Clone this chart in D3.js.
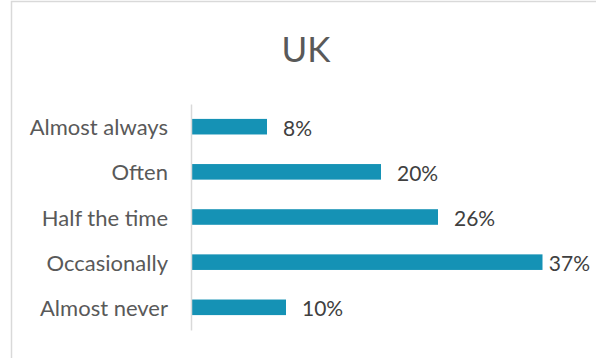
<!DOCTYPE html>
<html>
<head>
<meta charset="utf-8">
<script src="https://cdn.jsdelivr.net/npm/d3@7"></script>
<style>
  html, body { margin: 0; padding: 0; background: #fff; }
  svg { display: block; }
</style>
</head>
<body>
<svg id="chart" width="596" height="358"></svg>
<script>
const title = "UK";
const categories = ["Almost always", "Often", "Half the time", "Occasionally", "Almost never"];
const values = [0.08, 0.20, 0.26, 0.37, 0.10];
const valueLabels = ["8%", "20%", "26%", "37%", "10%"];

const svg = d3.select("#chart");
const W = 596, H = 358;
const FONT = "Lato, 'Open Sans', sans-serif";

// chart border
svg.append("rect")
  .attr("x", 11.5).attr("y", 1.5)
  .attr("width", 700).attr("height", 500)
  .attr("fill", "#fff").attr("stroke", "#d9d9d9").attr("stroke-width", 1.5);

const x = d3.scaleLinear().domain([0, 0.4]).range([191, 571]);
const y = d3.scaleBand().domain(categories).range([104, 330]).paddingInner(0.655).paddingOuter(0.33);

// title
svg.append("text")
  .attr("x", 306).attr("y", 62)
  .attr("text-anchor", "middle")
  .attr("font-family", FONT).attr("font-size", 35)
  .attr("fill", "#595959")
  .text(title);

// bars
svg.append("g").selectAll("rect")
  .data(categories)
  .join("rect")
  .attr("x", x(0))
  .attr("y", d => y(d))
  .attr("width", (d, i) => x(values[i]) - x(0))
  .attr("height", y.bandwidth())
  .attr("fill", "#1592b5");

// y axis
const yAxis = d3.axisLeft(y).tickSize(0).tickPadding(23);
const gy = svg.append("g").attr("transform", `translate(${x(0)},0)`).call(yAxis);
gy.select(".domain").attr("stroke", "#d9d9d9").attr("stroke-width", 1.5);
gy.selectAll("text")
  .attr("font-family", FONT).attr("font-size", 22)
  .attr("fill", "#595959").attr("dy", "0.39em");

// value labels (kept inside the chart area, like the original)
const maxRight = 590;
svg.append("g").selectAll("text")
  .data(categories)
  .join("text")
  .attr("y", d => y(d) + y.bandwidth() / 2)
  .attr("dy", "0.42em")
  .attr("font-family", FONT).attr("font-size", 21)
  .attr("fill", "#404040")
  .text((d, i) => valueLabels[i])
  .attr("x", function(d, i) {
    const w = this.getComputedTextLength();
    return Math.min(x(values[i]) + 16, maxRight - w);
  });
</script>
</body>
</html>
